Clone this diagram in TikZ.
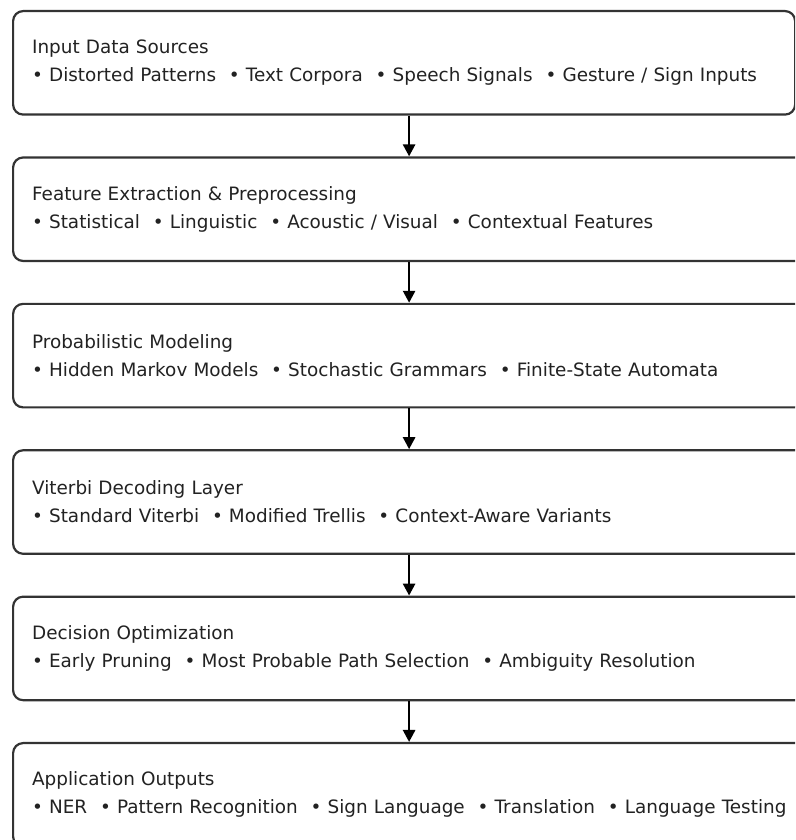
\documentclass[tikz,border=0pt]{standalone}
\usepackage{fontspec}
\setmainfont{DejaVu Sans}
\usetikzlibrary{arrows.meta,positioning}
\definecolor{boxline}{HTML}{333333}
\definecolor{bodytext}{HTML}{222222}
\newcommand{\bul}{\hspace{0.7em}•\ }

\begin{document}
\begin{tikzpicture}[x=1pt,y=1pt,
    stage/.style={draw=boxline, line width=2.2pt, rounded corners=10pt, fill=white,
        anchor=north west, minimum height=103.5pt, inner xsep=19pt, inner ysep=0pt,
        text width=754pt, align=left, text=bodytext,
        font=\fontsize{18.4}{28}\selectfont},
    flow/.style={-{Triangle[length=12pt,width=12pt]}, line width=2.6pt, black}]
    \useasboundingbox (0,0) rectangle (795,840);
    \clip (0,0) rectangle (795,840);

    % Pipeline stages
    \node[stage, text width=744pt] (inp) at (12,830) {Input Data Sources\\
        \mbox{• Distorted Patterns\bul Text Corpora\bul Speech Signals\bul Gesture / Sign Inputs}};
    \node[stage] (feat) at (12,683.6) {Feature Extraction \& Preprocessing\\
        \mbox{• Statistical\bul Linguistic\bul Acoustic / Visual\bul Contextual Features}};
    \node[stage] (prob) at (12,537.2) {Probabilistic Modeling\\
        \mbox{• Hidden Markov Models\bul Stochastic Grammars\bul Finite-State Automata}};
    \node[stage] (vit) at (12,390.8) {Viterbi Decoding Layer\\
        \mbox{• Standard Viterbi\bul Modified Trellis\bul Context-Aware Variants}};
    \node[stage] (dec) at (12,244.4) {Decision Optimization\\
        \mbox{• Early Pruning\bul Most Probable Path Selection\bul Ambiguity Resolution}};
    \node[stage] (app) at (12,98) {Application Outputs\\
        \mbox{• NER\bul Pattern Recognition\bul Sign Language\bul Translation\bul Language Testing}};

    % Flow arrows
    \draw[flow] (feat.north |- inp.south) -- (feat.north);
    \draw[flow] (feat.south) -- (prob.north);
    \draw[flow] (prob.south) -- (vit.north);
    \draw[flow] (vit.south) -- (dec.north);
    \draw[flow] (dec.south) -- (app.north);
\end{tikzpicture}
\end{document}
